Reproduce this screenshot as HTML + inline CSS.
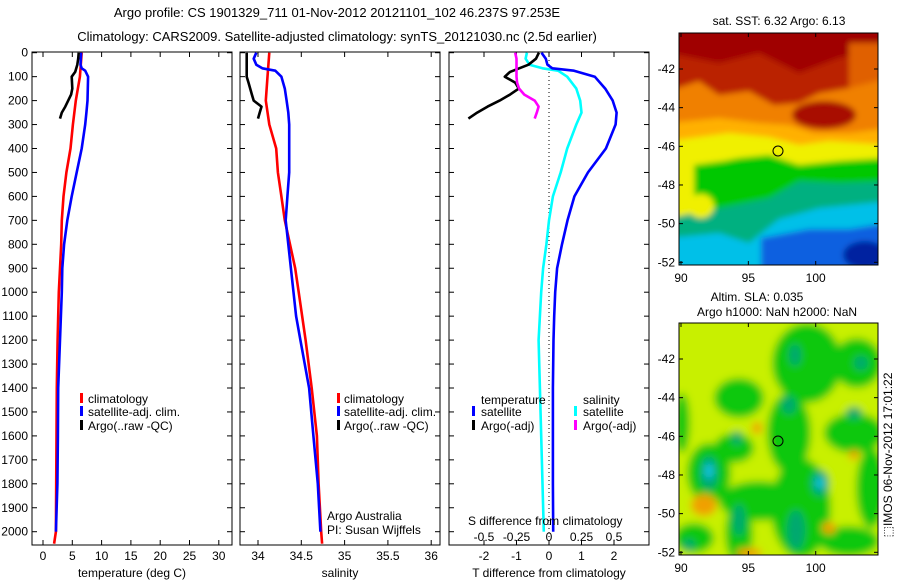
<!DOCTYPE html>
<html><head><meta charset="utf-8"><style>
html,body{margin:0;padding:0;background:#fff;}
svg{display:block;font-family:"Liberation Sans",sans-serif;}
text{font-size:12px;fill:#000;}
</style></head><body>
<svg id="fig" width="900" height="580" viewBox="0 0 900 580" xmlns="http://www.w3.org/2000/svg">
<defs>
<filter id="blur3" x="-5%" y="-5%" width="110%" height="110%"><feGaussianBlur stdDeviation="3"/></filter>
<filter id="blur4" x="-5%" y="-5%" width="110%" height="110%"><feGaussianBlur stdDeviation="4"/></filter>
<clipPath id="clipTop"><rect x="679" y="33" width="199" height="232"/></clipPath>
<clipPath id="clipBot"><rect x="679" y="323" width="199" height="232"/></clipPath>
</defs>
<text x="337" y="17" text-anchor="middle" style="font-size:13px">Argo profile: CS 1901329_711 01-Nov-2012 20121101_102 46.237S 97.253E</text>
<text x="337" y="41" text-anchor="middle" style="font-size:13px">Climatology: CARS2009. Satellite-adjusted climatology: synTS_20121030.nc (2.5d earlier)</text>

<g id="p1"></g>
<g id="p2"></g>
<g id="p3"></g>

<g>
<rect x="80" y="393" width="3" height="10" fill="#f00"/><text x="88" y="403">climatology</text>
<rect x="80" y="406" width="3" height="10" fill="#00f"/><text x="88" y="416">satellite-adj. clim.</text>
<rect x="80" y="420" width="3" height="10" fill="#000"/><text x="88" y="430">Argo(..raw -QC)</text>
</g>
<g>
<rect x="337" y="393" width="3" height="10" fill="#f00"/><text x="344" y="403">climatology</text>
<rect x="337" y="406" width="3" height="10" fill="#00f"/><text x="344" y="416">satellite-adj. clim.</text>
<rect x="337" y="420" width="3" height="10" fill="#000"/><text x="344" y="430">Argo(..raw -QC)</text>
</g>
<g>
<text x="481" y="404">temperature</text>
<rect x="472" y="406" width="3" height="10" fill="#00f"/><text x="481" y="416">satellite</text>
<rect x="472" y="420" width="3" height="10" fill="#000"/><text x="481" y="430">Argo(-adj)</text>
<text x="583" y="404">salinity</text>
<rect x="574" y="406" width="3" height="10" fill="#0ff"/><text x="583" y="416">satellite</text>
<rect x="574" y="420" width="3" height="10" fill="#f0f"/><text x="583" y="430">Argo(-adj)</text>
</g>
<text x="327" y="520">Argo Australia</text>
<text x="327" y="534">PI: Susan Wijffels</text>
<text x="468" y="525">S difference from climatology</text>
<g id="sTicks"></g>

<text x="779" y="25" text-anchor="middle">sat. SST: 6.32 Argo: 6.13</text>
<g clip-path="url(#clipTop)">
<g transform="translate(679,33)" filter="url(#blur3)">
<rect x="-10" y="-10" width="220" height="260" fill="#a00000"/>
<path d="M-10,20 L40,30 L80,20 L120,40 L160,25 L210,15 L210,80 L-10,80Z" fill="#c02800" opacity="0.8"/>
<rect x="170" y="10" width="40" height="70" fill="#e06000"/>
<path d="M-10,58 L20,48 L40,62 L70,58 L95,72 L120,70 L140,60 L170,55 L210,45 L210,120 L-10,120Z" fill="#f08000"/>
<ellipse cx="145" cy="82" rx="32" ry="14" fill="#a81000"/>
<path d="M-10,90 L40,85 L80,90 L110,92 L135,100 L170,100 L210,95 L210,130 L-10,130Z" fill="#ffb000"/>
<path d="M-10,108 L50,100 L90,104 L120,112 L150,108 L210,112 L210,240 L-10,240Z" fill="#f0f000"/>
<path d="M15,132 L45,128 L60,125 L90,122 L120,132 L160,128 L210,125 L210,240 L35,240 L35,185 L15,180Z" fill="#00c800"/>
<path d="M-10,185 L40,175 L90,165 L120,148 L160,150 L210,148 L210,240 L-10,240Z" fill="#00b080"/>
<path d="M-10,205 L40,200 L70,210 L100,186 L140,175 L210,168 L210,240 L-10,240Z" fill="#00c0e8"/>
<path d="M82,240 L82,205 L130,196 L170,196 L210,190 L210,240Z" fill="#1060e0"/>
<ellipse cx="186" cy="222" rx="22" ry="14" fill="#0020a0"/>
<ellipse cx="22" cy="173" rx="13" ry="12" fill="#f0f000"/>
</g></g>
<rect x="679" y="33" width="199" height="232" fill="none" stroke="#000"/>
<circle cx="778" cy="151" r="5" fill="none" stroke="#000"/>
<g id="mapTopAxes"></g>

<text x="757" y="301" text-anchor="middle">Altim. SLA: 0.035</text>
<text x="777" y="316" text-anchor="middle">Argo h1000: NaN h2000: NaN</text>
<g clip-path="url(#clipBot)">
<g transform="translate(679,323)" filter="url(#blur4)">
<rect x="-10" y="-10" width="220" height="260" fill="#c8f000"/>
<g fill="#10c810">
<ellipse cx="128" cy="40" rx="35" ry="40"/><ellipse cx="110" cy="110" rx="22" ry="40"/><ellipse cx="60" cy="75" rx="25" ry="20"/>
<ellipse cx="55" cy="125" rx="20" ry="15"/><ellipse cx="30" cy="150" rx="22" ry="30"/><ellipse cx="80" cy="178" rx="40" ry="20"/>
<ellipse cx="122" cy="185" rx="30" ry="50"/><ellipse cx="175" cy="110" rx="30" ry="20"/><ellipse cx="178" cy="40" rx="25" ry="25"/>
<ellipse cx="192" cy="165" rx="15" ry="40"/><ellipse cx="15" cy="215" rx="20" ry="15"/><ellipse cx="170" cy="218" rx="30" ry="15"/>
<ellipse cx="3" cy="100" rx="8" ry="30"/><ellipse cx="60" cy="210" rx="14" ry="30"/>
</g>
<g fill="#00a870">
<ellipse cx="116" cy="32" rx="6" ry="11"/><ellipse cx="110" cy="82" rx="7" ry="9"/><ellipse cx="58" cy="115" rx="5" ry="7"/>
<ellipse cx="30" cy="150" rx="9" ry="17"/><ellipse cx="60" cy="197" rx="6" ry="16"/><ellipse cx="117" cy="207" rx="9" ry="20"/>
<ellipse cx="141" cy="160" rx="9" ry="13"/><ellipse cx="175" cy="90" rx="8" ry="6"/><ellipse cx="182" cy="40" rx="7" ry="7"/>
<ellipse cx="10" cy="222" rx="6" ry="6"/>
</g>
<g fill="#10c8e8"><ellipse cx="30" cy="148" rx="4" ry="8"/><ellipse cx="141" cy="160" rx="4" ry="6"/></g>
<g fill="#f0a000"><ellipse cx="25" cy="182" rx="13" ry="11"/><ellipse cx="70" cy="230" rx="13" ry="5"/><ellipse cx="150" cy="205" rx="7" ry="6"/><ellipse cx="175" cy="132" rx="5" ry="5"/><ellipse cx="78" cy="105" rx="5" ry="6"/></g>
</g></g>
<rect x="679" y="323" width="199" height="232" fill="none" stroke="#000"/>
<circle cx="778" cy="441" r="5" fill="none" stroke="#000"/>
<g id="mapBotAxes"></g>
<text transform="translate(892,455) rotate(-90)" text-anchor="middle">&#x2B1A;IMOS 06-Nov-2012 17:01:22</text>
</svg>
<script>
const depthTicks = [0,100,200,300,400,500,600,700,800,900,1000,1100,1200,1300,1400,1500,1600,1700,1800,1900,2000];
const tempTicks = [0,5,10,15,20,25,30];
const salTicks = [34,34.5,35,35.5,36];
const tdiffTicks = [-2,-1,0,1,2];
const sdiffTicks = [-0.5,-0.25,0,0.25,0.5];
const sdiffTickLabels = ['-0.5','-0.25','0','0.25','0.5'];
const latTicks = [-42,-44,-46,-48,-50,-52];
const lonTicks = [90,95,100];

const climDepth = [0,100,200,300,400,500,600,700,800,900,1000,1200,1400,1600,1800,2000,2050];
const climTemp = [6.6,6.3,5.6,5.1,4.7,4.0,3.5,3.2,3.1,2.9,2.7,2.5,2.35,2.3,2.25,2.2,1.9];
const climSal = [34.13,34.11,34.09,34.13,34.21,34.23,34.27,34.31,34.37,34.43,34.47,34.55,34.62,34.68,34.70,34.73,34.74];

const satDepth = [0,25,50,65,75,100,150,200,250,300,400,500,600,700,800,900,1000,1100,1200,1400,1600,1800,2000];
const satTemp = [6.5,6.45,6.4,6.6,7.2,7.7,7.65,7.6,7.4,7.2,6.6,5.75,4.9,4.15,3.6,3.3,3.2,3.05,2.9,2.6,2.55,2.45,2.2];
const satSal = [33.98,33.95,33.98,34.05,34.2,34.27,34.31,34.33,34.35,34.36,34.36,34.36,34.34,34.32,34.35,34.38,34.41,34.44,34.49,34.59,34.64,34.69,34.72];
const satTdiff = [-0.23,-0.1,-0.05,0.1,0.77,1.41,1.73,1.96,2.08,2.05,1.75,1.2,0.78,0.57,0.4,0.25,0.19,0.16,0.14,0.12,0.12,0.12,0.13];
const satSdiff = [-0.17,-0.18,-0.15,-0.05,0.07,0.14,0.21,0.24,0.25,0.21,0.14,0.09,0.03,0,-0.02,-0.045,-0.06,-0.07,-0.08,-0.07,-0.06,-0.05,-0.04];

const argoDepth = [0,25,50,80,100,125,150,175,200,225,250,275];
const argoTemp = [6.1,6.0,5.85,5.5,4.9,4.95,5.0,4.8,4.3,3.8,3.2,2.9];
const argoSal = [33.87,33.87,33.87,33.87,33.87,33.89,33.91,33.93,33.95,34.04,34.02,34.0];
const argoTdiff = [-0.31,-0.4,-0.63,-1.2,-1.36,-1.04,-0.93,-1.2,-1.52,-1.89,-2.21,-2.48];
const argoSdiff = [-0.26,-0.25,-0.25,-0.25,-0.25,-0.245,-0.23,-0.19,-0.11,-0.08,-0.094,-0.11];

const NS='http://www.w3.org/2000/svg';
const yD = d => 52.7 + 0.2395*d;
const TOP=52, BOT=545;
const xT = t => 43 + 5.86*t;
const xS = s => 258 + 86.6*(s-34);
const xTd = t => 549 + 32.5*t;
const xSd = s => 549 + 130*s;

function mk(tag, attrs, parent){const e=document.createElementNS(NS,tag);for(const k in attrs)e.setAttribute(k,attrs[k]);parent.appendChild(e);return e;}

function panel(g, x0, x1, xf, ticks, labels, title, yLabels){
  const f=mk('rect',{x:x0,y:TOP,width:x1-x0,height:BOT-TOP,fill:'none',stroke:'#000'},g);
  
  
  ticks.forEach((t,i)=>{
    const x=xf(t);
    mk('line',{x1:x,y1:BOT,x2:x,y2:BOT-5,stroke:'#000'},g);
    mk('line',{x1:x,y1:TOP,x2:x,y2:TOP+5,stroke:'#000'},g);
    if(labels){const tx=mk('text',{x:x,y:560,'text-anchor':'middle'},g);tx.textContent=labels[i];
      
      }
  });
  depthTicks.forEach(d=>{
    const y=yD(d);
    mk('line',{x1:x0,y1:y,x2:x0+5,y2:y,stroke:'#000'},g);
    mk('line',{x1:x1,y1:y,x2:x1-5,y2:y,stroke:'#000'},g);
    if(yLabels){const tx=mk('text',{x:28,y:y+4,'text-anchor':'end'},g);tx.textContent=d;
      
      }
  });
  const tt=mk('text',{x:(x0+x1)/2,y:577,'text-anchor':'middle'},g);tt.textContent=title;
  
  
}
function line(g, xs, ds, xf, color, w, name){
  const pts=xs.map((v,i)=>xf(v).toFixed(1)+','+yD(ds[i]).toFixed(1)).join(' ');
  const p=mk('polyline',{points:pts,fill:'none',stroke:color,'stroke-width':w,'stroke-linejoin':'round'},g);
  
  
}
const p1=document.getElementById('p1'),p2=document.getElementById('p2'),p3=document.getElementById('p3');
panel(p1,32,232,xT,tempTicks,tempTicks.map(String),'temperature (deg C)',true);
panel(p2,240,440,xS,salTicks,salTicks.map(String),'salinity',false);
panel(p3,449,649,xTd,tdiffTicks,tdiffTicks.map(String),'T difference from climatology',false);
const dot=mk('line',{x1:xTd(0),y1:TOP,x2:xTd(0),y2:BOT,stroke:'#000','stroke-dasharray':'1,3'},p3);


const sT=document.getElementById('sTicks');
sdiffTicks.forEach((s,i)=>{const t=mk('text',{x:xSd(s),y:541,'text-anchor':'middle'},sT);t.textContent=sdiffTickLabels[i];
  
  });

line(p1,climTemp,climDepth,xT,'#f00',2.6,'climatology-temperature-line');
line(p1,satTemp,satDepth,xT,'#00f',2.6,'satellite-temperature-line');
line(p1,argoTemp,argoDepth,xT,'#000',2.6,'argo-temperature-line');
line(p2,climSal,climDepth,xS,'#f00',2.6,'climatology-salinity-line');
line(p2,satSal,satDepth,xS,'#00f',2.6,'satellite-salinity-line');
line(p2,argoSal,argoDepth,xS,'#000',2.6,'argo-salinity-line');
line(p3,satSdiff,satDepth,xSd,'#0ff',2.6,'satellite-salinity-diff-line');
line(p3,satTdiff,satDepth,xTd,'#00f',2.6,'satellite-temperature-diff-line');
line(p3,argoTdiff,argoDepth,xTd,'#000',2.6,'argo-temperature-diff-line');
line(p3,argoSdiff,argoDepth,xSd,'#f0f',2.6,'argo-salinity-diff-line');

function mapAxes(gid, top, lat0y){
  const g=document.getElementById(gid);
  latTicks.forEach(l=>{
    const y=lat0y + (-42-l)*19.33;
    mk('line',{x1:679,y1:y,x2:683,y2:y,stroke:'#000'},g);
    mk('line',{x1:878,y1:y,x2:874,y2:y,stroke:'#000'},g);
    const t=mk('text',{x:675,y:y+4,'text-anchor':'end'},g);t.textContent=l;
    
    
  });
  lonTicks.forEach(l=>{
    const x=681+(l-90)*13.47;
    mk('line',{x1:x,y1:top+232,x2:x,y2:top+228,stroke:'#000'},g);
    mk('line',{x1:x,y1:top,x2:x,y2:top+4,stroke:'#000'},g);
    const t=mk('text',{x:x,y:top+249,'text-anchor':'middle'},g);t.textContent=l;
    
    
  });
}
mapAxes('mapTopAxes',33,69);
mapAxes('mapBotAxes',323,359);
</script>
</body></html>
